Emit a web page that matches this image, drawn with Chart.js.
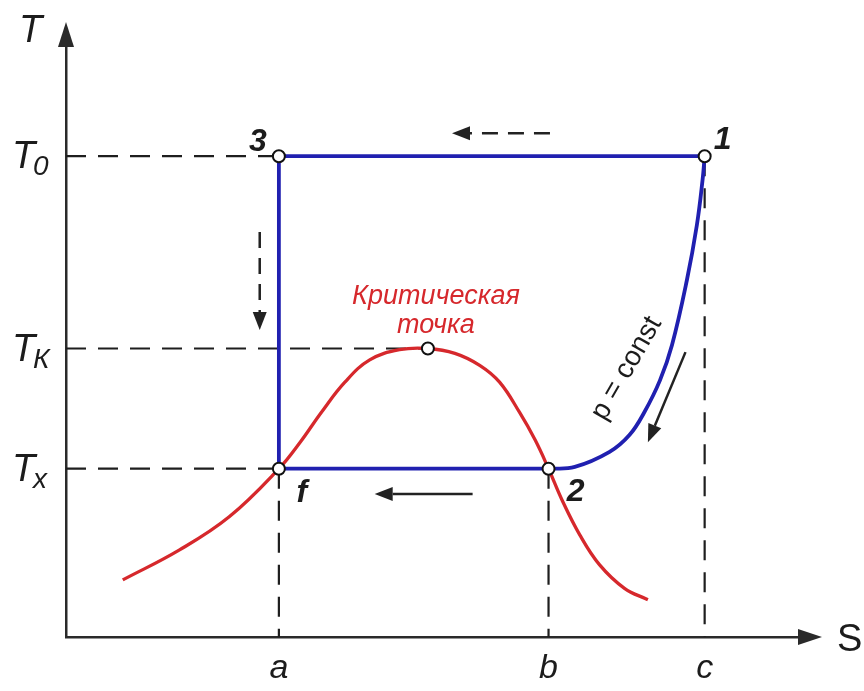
<!DOCTYPE html>
<html>
<head>
<meta charset="utf-8">
<script src="https://cdn.jsdelivr.net/npm/chart.js@4/dist/chart.umd.min.js"></script>
<style>
  html, body { margin: 0; padding: 0; background: #ffffff; }
  #wrap { width: 864px; height: 691px; }
</style>
</head>
<body>
<div id="wrap"><canvas id="ts" width="864" height="691"></canvas></div>
<script>
// Entropy (S) and temperature (T) reference values
const S_TICKS = [3, 6.8, 9];
const S_LABELS = ['a', 'b', 'c'];
const T_TICKS = [8, 4.8, 2.8];
const T_SUBS = ['0', 'К', 'х'];

// Saturation (liquid-vapour) dome
const satS = [0.8, 1.6, 2.3, 3.0, 3.3, 3.6, 3.93, 4.28, 4.7, 5.1, 5.48, 5.83, 6.11, 6.39, 6.61, 6.8, 6.99, 7.24, 7.52, 7.87, 8.2];
const satT = [0.95, 1.45, 2.0, 2.8, 3.24, 3.74, 4.24, 4.61, 4.78, 4.8, 4.72, 4.52, 4.24, 3.74, 3.28, 2.8, 2.28, 1.7, 1.2, 0.81, 0.62];

// Isobar p = const from state 2 up to state 1
const isoS = [6.8, 7.17, 7.66, 7.94, 8.15, 8.37, 8.54, 8.75, 8.89, 8.97, 9.0];
const isoT = [2.8, 2.83, 3.08, 3.36, 3.74, 4.27, 4.86, 5.94, 6.85, 7.6, 8.0];

// Cycle path 1 -> 3 -> f -> 2
const cycleS = [9, 3, 3, 6.8];
const cycleT = [8, 8, 2.8, 2.8];

// State points and the critical point
const stateNames = ['1', '3', 'f', '2', ''];
const stateS = [9, 3, 3, 6.8, 5.1];
const stateT = [8, 8, 2.8, 2.8, 4.8];

// Direction arrows (start and end in S, T units)
const arrowFromS = [6.82, 2.73, 5.73, 8.73];
const arrowFromT = [8.38, 6.74, 2.38, 4.74];
const arrowToS   = [5.44, 2.73, 4.35, 8.20];
const arrowToT   = [8.38, 5.11, 2.38, 3.24];
const arrowDashed = [true, true, false, false];

const FONT = '"Liberation Sans", Arial, Helvetica, sans-serif';
const INK = '#1c1c1c';
const AXIS = '#2a2a2a';
const BLUE = '#2020b0';
const RED = '#d6282c';

const pts = (xs, ys) => xs.map((x, i) => ({ x: x, y: ys[i] }));

// offsets (px) of the state-point numbers from their markers
const nameOffset = { '1': [18, -16], '3': [-21, -14], 'f': [23, 24], '2': [27, 23] };

function head(ctx, x1, y1, x2, y2, len, half) {
  const a = Math.atan2(y2 - y1, x2 - x1);
  const bx = x2 - len * Math.cos(a), by = y2 - len * Math.sin(a);
  ctx.beginPath();
  ctx.moveTo(x2, y2);
  ctx.lineTo(bx + half * Math.sin(a), by - half * Math.cos(a));
  ctx.lineTo(bx - half * Math.sin(a), by + half * Math.cos(a));
  ctx.closePath();
  ctx.fill();
  return [bx, by];
}

const decorations = {
  id: 'decorations',
  afterDatasetsDraw(chart) {
    const ctx = chart.ctx;
    const xs = chart.scales.x, ys = chart.scales.y;
    const area = chart.chartArea;
    ctx.save();

    // axis arrowheads
    ctx.fillStyle = AXIS;
    head(ctx, area.left, area.top + 10, area.left, area.top - 23, 25, 8);
    head(ctx, area.right - 10, area.bottom, area.right + 18, area.bottom, 24, 8);

    // axis names
    ctx.fillStyle = INK;
    ctx.textBaseline = 'alphabetic';
    ctx.textAlign = 'left';
    ctx.font = 'italic 38px ' + FONT;
    ctx.fillText('T', area.left - 47, area.top - 3);
    ctx.font = '38px ' + FONT;
    ctx.fillText('S', area.right + 33, area.bottom + 14);

    // T tick labels with subscripts
    T_TICKS.forEach((v, i) => {
      const y = ys.getPixelForValue(v);
      ctx.font = 'italic 38px ' + FONT;
      ctx.fillText('T', 12, y + 12);
      ctx.font = 'italic 28px ' + FONT;
      ctx.fillText(T_SUBS[i], 33, y + 19);
    });

    // process direction arrows
    ctx.strokeStyle = '#222222';
    ctx.fillStyle = '#222222';
    ctx.lineWidth = 2.5;
    arrowFromS.forEach((s, i) => {
      const x1 = xs.getPixelForValue(s), y1 = ys.getPixelForValue(arrowFromT[i]);
      const x2 = xs.getPixelForValue(arrowToS[i]), y2 = ys.getPixelForValue(arrowToT[i]);
      const b = head(ctx, x1, y1, x2, y2, 18, 7);
      ctx.setLineDash(arrowDashed[i] ? [16, 10] : []);
      ctx.beginPath();
      ctx.moveTo(x1, y1);
      ctx.lineTo(b[0], b[1]);
      ctx.stroke();
    });
    ctx.setLineDash([]);

    // state numbers
    ctx.font = 'italic bold 32px ' + FONT;
    ctx.fillStyle = INK;
    ctx.textAlign = 'center';
    ctx.textBaseline = 'middle';
    stateNames.forEach((n, i) => {
      if (!n) return;
      const o = nameOffset[n];
      ctx.fillText(n, xs.getPixelForValue(stateS[i]) + o[0], ys.getPixelForValue(stateT[i]) + o[1]);
    });

    // critical point caption
    const cx = xs.getPixelForValue(stateS[4]), cy = ys.getPixelForValue(stateT[4]);
    ctx.fillStyle = RED;
    ctx.font = 'italic 27px ' + FONT;
    ctx.fillText('Критическая', cx + 8, cy - 52);
    ctx.fillText('точка', cx + 8, cy - 23);

    // isobar caption
    ctx.fillStyle = INK;
    ctx.font = '28px ' + FONT;
    ctx.translate(xs.getPixelForValue(7.9), ys.getPixelForValue(4.47));
    ctx.rotate(-60 * Math.PI / 180);
    ctx.fillText('p = const', 0, 0);
    ctx.restore();
  }
};

const guide = (s1, t1, s2, t2) => ({
  type: 'line',
  data: [{ x: s1, y: t1 }, { x: s2, y: t2 }],
  borderColor: '#1e1e1e',
  borderWidth: 2.2,
  borderDash: [20, 12],
  pointRadius: 0,
  tension: 0,
  order: 4
});

new Chart(document.getElementById('ts'), {
  type: 'scatter',
  data: {
    datasets: [
      {
        label: 'state points',
        data: pts(stateS, stateT),
        pointRadius: 6,
        pointBackgroundColor: '#ffffff',
        pointBorderColor: '#111111',
        pointBorderWidth: 2,
        showLine: false,
        order: 0
      },
      {
        label: 'saturation dome',
        type: 'line',
        data: pts(satS, satT),
        borderColor: RED,
        borderWidth: 3.3,
        pointRadius: 0,
        tension: 0.4,
        order: 1
      },
      {
        label: 'cycle',
        type: 'line',
        data: pts(cycleS, cycleT),
        borderColor: BLUE,
        borderWidth: 3.8,
        pointRadius: 0,
        tension: 0,
        order: 2
      },
      {
        label: 'isobar',
        type: 'line',
        data: pts(isoS, isoT),
        borderColor: BLUE,
        borderWidth: 3.8,
        pointRadius: 0,
        tension: 0.4,
        order: 2
      },
      guide(0, T_TICKS[0], S_TICKS[0], T_TICKS[0]),
      guide(0, T_TICKS[1], stateS[4], T_TICKS[1]),
      guide(0, T_TICKS[2], S_TICKS[0], T_TICKS[2]),
      guide(S_TICKS[0], T_TICKS[2], S_TICKS[0], 0),
      guide(S_TICKS[1], T_TICKS[2], S_TICKS[1], 0),
      guide(S_TICKS[2], T_TICKS[0], S_TICKS[2], 0)
    ]
  },
  options: {
    responsive: false,
    animation: false,
    devicePixelRatio: 1,
    layout: { padding: { left: 66, right: 60, top: 45, bottom: 0 } },
    plugins: { legend: { display: false }, tooltip: { enabled: false } },
    scales: {
      x: {
        type: 'linear',
        min: 0,
        max: 10.4,
        border: { display: true, color: AXIS, width: 2.5 },
        grid: { display: false, drawTicks: false },
        afterBuildTicks: s => { s.ticks = S_TICKS.map(v => ({ value: v })); },
        afterFit: s => { s.height = 54; },
        ticks: {
          autoSkip: false,
          maxRotation: 0,
          padding: 15,
          color: INK,
          font: { family: FONT, size: 34, style: 'italic', lineHeight: 1 },
          callback: (v, i) => S_LABELS[i]
        }
      },
      y: {
        type: 'linear',
        min: 0,
        max: 9.85,
        border: { display: true, color: AXIS, width: 2.5 },
        grid: { display: false, drawTicks: false },
        ticks: { display: false }
      }
    }
  },
  plugins: [decorations]
});
</script>
</body>
</html>
